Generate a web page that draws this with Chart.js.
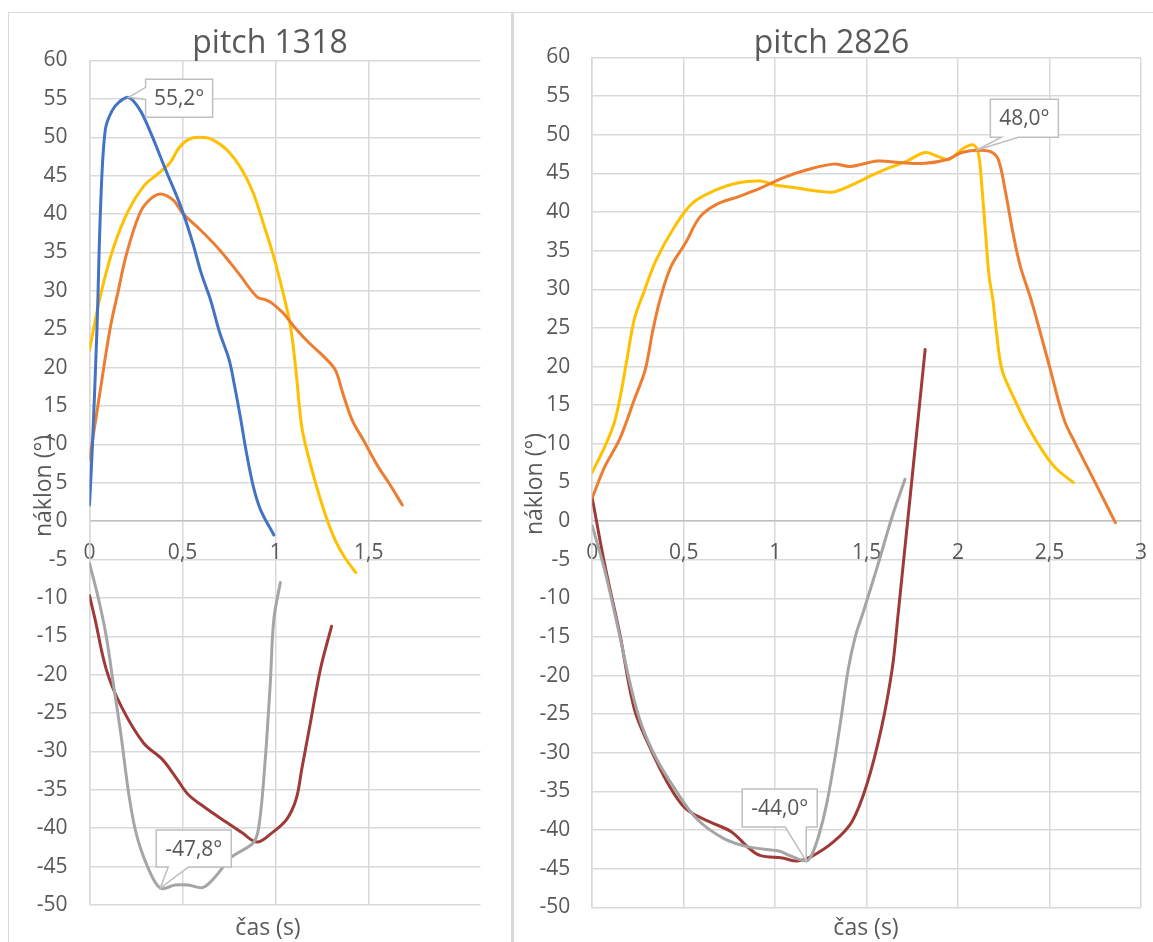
<!DOCTYPE html>
<html><head><meta charset="utf-8">
<script src="https://cdn.jsdelivr.net/npm/chart.js@4.4.1/dist/chart.umd.min.js"></script>
<style>
html,body{margin:0;padding:0;background:#fff;width:1153px;height:942px;overflow:hidden;}
.ln{position:absolute;background:#D9D9D9;}
#wl{position:absolute;left:0;top:0;width:512px;height:942px;}
#wr{position:absolute;left:512px;top:0;width:641px;height:942px;}
</style></head><body>
<div class="ln" style="left:8px;top:12px;width:1145px;height:1px"></div>
<div class="ln" style="left:8px;top:12px;width:1px;height:930px"></div>
<div class="ln" style="left:511px;top:12px;width:3px;height:930px"></div>
<div id="wl"><canvas id="cl" width="512" height="942"></canvas></div>
<div id="wr"><canvas id="cr" width="641" height="942"></canvas></div>
<script>
// ---------- data: pitch 1318 ----------
const titleLeft = "pitch 1318";
const titleRight = "pitch 2826";
const xTitle = "čas (s)";
const yTitle = "náklon (°)";
const yTicks = {min: -50, max: 60, step: 5};

const l1T = [0, 0.016, 0.04, 0.061, 0.085, 0.12, 0.16, 0.21, 0.27, 0.33, 0.41, 0.49, 0.55, 0.6, 0.65, 0.7, 0.75, 0.78, 0.81, 0.84, 0.88, 0.92, 0.99];
const l1V = [2.1, 10, 25, 41.8, 51, 53.4, 54.6, 55.2, 53.6, 50.5, 45.7, 41, 36.6, 32.3, 28.8, 24.5, 21, 17.5, 13.6, 9.3, 4.5, 1.4, -1.8];

const l2T = [0, 0.05, 0.11, 0.15, 0.2, 0.27, 0.32, 0.38, 0.45, 0.5, 0.58, 0.7, 0.8, 0.9, 0.95, 0.98, 1.04, 1.1, 1.18, 1.26, 1.32, 1.36, 1.41, 1.47, 1.55, 1.61, 1.68];
const l2V = [8, 15.8, 25, 29.5, 34.9, 40.1, 41.8, 42.6, 41.8, 40.1, 38.3, 35.3, 32.3, 29.2, 28.8, 28.4, 27.1, 25.3, 23.2, 21.4, 19.7, 16.7, 13.2, 10.6, 7.1, 4.9, 2.1];

const l3T = [0, 0.05, 0.09, 0.13, 0.17, 0.21, 0.25, 0.31, 0.38, 0.46, 0.53, 0.61, 0.68, 0.76, 0.88, 0.91, 0.94, 0.97, 0.99, 1.025];
const l3V = [-5.5, -10.3, -15, -21.5, -28, -35.4, -40.6, -44.9, -47.8, -47.4, -47.4, -47.7, -46.2, -43.8, -41.9, -39.7, -32.3, -21.5, -12.8, -8];

const l4T = [0, 0.06, 0.13, 0.21, 0.29, 0.36, 0.43, 0.48, 0.53, 0.59, 0.66, 0.74, 0.82, 0.88, 0.94, 0.99, 1.04, 1.08, 1.11, 1.14, 1.18, 1.22, 1.27, 1.32, 1.37, 1.43];
const l4V = [22.3, 29.5, 35.7, 40.5, 43.6, 45.1, 46.6, 48.6, 49.7, 50, 49.7, 48.3, 45.7, 42.7, 38.3, 34.4, 29.7, 25.3, 19.3, 12.3, 8, 4.5, 0.6, -2.5, -4.7, -6.7];

const l5T = [0, 0.03, 0.09, 0.17, 0.29, 0.39, 0.47, 0.53, 0.62, 0.74, 0.82, 0.9, 0.98, 1.06, 1.11, 1.14, 1.18, 1.24, 1.3];
const l5V = [-9.7, -12.8, -19.3, -24.1, -28.9, -31, -33.6, -35.6, -37.3, -39.3, -40.6, -41.8, -40.6, -38.8, -36.2, -32.3, -27.1, -19.3, -13.7];

// ---------- data: pitch 2826 ----------
const r2T = [0, 0.07, 0.15, 0.23, 0.29, 0.33, 0.37, 0.43, 0.51, 0.59, 0.68, 0.8, 0.92, 1.04, 1.18, 1.32, 1.41, 1.56, 1.68, 1.82, 1.94, 2.02, 2.1, 2.18, 2.22, 2.26, 2.3, 2.34, 2.4, 2.5, 2.58, 2.64, 2.76, 2.86];
const r2V = [3, 7.1, 10.6, 15.7, 19.6, 24.5, 28.6, 32.9, 36, 39.4, 41, 42, 43.1, 44.4, 45.5, 46.2, 45.9, 46.6, 46.4, 46.3, 46.8, 47.7, 48, 47.8, 46.8, 42.5, 37.3, 33, 28.6, 20, 13.1, 10.1, 4.5, -0.2];

const r3T = [0, 0.07, 0.15, 0.21, 0.27, 0.35, 0.45, 0.57, 0.72, 0.86, 1.02, 1.08, 1.17, 1.2, 1.24, 1.28, 1.32, 1.36, 1.4, 1.44, 1.48, 1.56, 1.64, 1.71];
const r3V = [-0.6, -6.5, -14.8, -21.3, -26.4, -30.7, -34.6, -38.5, -41.1, -42.2, -42.7, -43.3, -44, -43.2, -40.6, -36.8, -31.6, -25.6, -19.1, -14.8, -11.9, -5.8, 0.6, 5.4];

const r4T = [0, 0.07, 0.12, 0.15, 0.19, 0.23, 0.28, 0.35, 0.45, 0.55, 0.68, 0.8, 0.92, 1.0, 1.12, 1.24, 1.32, 1.42, 1.56, 1.72, 1.82, 1.89, 1.95, 2.02, 2.08, 2.11, 2.13, 2.15, 2.17, 2.19, 2.21, 2.24, 2.3, 2.38, 2.47, 2.54, 2.63];
const r4V = [6.3, 9.7, 12.7, 15.7, 20.9, 26.1, 29.5, 33.8, 38.1, 41.2, 42.9, 43.8, 44, 43.5, 43.1, 42.7, 42.6, 43.5, 45.1, 46.6, 47.7, 47.2, 46.8, 48.1, 48.7, 47.7, 43.3, 37.3, 31.6, 28.7, 24.4, 19.6, 16.2, 12.3, 8.8, 6.7, 5];

const r5T = [0, 0.07, 0.15, 0.23, 0.31, 0.41, 0.51, 0.64, 0.76, 0.86, 0.92, 1.04, 1.12, 1.2, 1.32, 1.42, 1.5, 1.58, 1.64, 1.67, 1.82];
const r5V = [3, -5.8, -14.5, -24.3, -29, -33.8, -37.2, -38.9, -40.2, -42.4, -43.3, -43.6, -44, -43.4, -41.5, -38.9, -34.2, -26.9, -19.1, -12.6, 22.2];

const COLORS = {blue: '#4472C4', orange: '#ED7D31', gray: '#A5A5A5', gold: '#FFC000', red: '#9E3A38'};
const FONT = "'Open Sans', 'Noto Sans', sans-serif";
const TXT = '#595959';
const GRID = '#D9D9D9';

function pts(t, v) { return t.map((x, i) => ({x: x, y: v[i]})); }
function fmt(v) { return String(Math.round(v * 10) / 10).replace('.', ','); }
function ds(t, v, color) {
  return {data: pts(t, v), borderColor: color, backgroundColor: color, borderWidth: 3,
    pointRadius: 0, tension: 0.35, fill: false,
    borderCapStyle: 'round', borderJoinStyle: 'round'};
}

function drawCallout(ctx, px, py, c, text) {
  const bx = px + c.dx, by = py + c.dy, bw = c.w, bh = c.h;
  ctx.save();
  ctx.beginPath();
  if (c.side === 'bottom') {
    ctx.moveTo(bx, by); ctx.lineTo(bx + bw, by); ctx.lineTo(bx + bw, by + bh);
    ctx.lineTo(bx + c.b, by + bh); ctx.lineTo(px, py); ctx.lineTo(bx + c.a, by + bh);
    ctx.lineTo(bx, by + bh); ctx.closePath();
  } else {
    ctx.moveTo(bx, by); ctx.lineTo(bx + bw, by); ctx.lineTo(bx + bw, by + bh); ctx.lineTo(bx, by + bh);
    ctx.lineTo(bx, by + c.b); ctx.lineTo(px, py); ctx.lineTo(bx, by + c.a); ctx.closePath();
  }
  ctx.fillStyle = '#fff'; ctx.fill();
  ctx.strokeStyle = '#BFBFBF'; ctx.lineWidth = 1.5; ctx.stroke();
  ctx.fillStyle = TXT; ctx.font = '21px ' + FONT; ctx.textAlign = 'center'; ctx.textBaseline = 'middle';
  ctx.fillText(text, bx + bw / 2, by + bh / 2 + 1);
  ctx.restore();
}

const textPlugin = {
  id: 'texts',
  afterDatasetsDraw(chart) {
    const o = chart.config.options.custom;
    const ctx = chart.ctx;
    const xs = chart.scales.x, ys = chart.scales.y;
    o.callouts.forEach(c => {
      const d = chart.data.datasets[c.ds].data;
      let best = 0;
      d.forEach((p, i) => { if (c.mode === 'max' ? p.y > d[best].y : p.y < d[best].y) best = i; });
      const p = d[best];
      drawCallout(ctx, xs.getPixelForValue(p.x), ys.getPixelForValue(p.y), c, p.y.toFixed(1).replace('.', ',') + '°');
    });
  },
  afterDraw(chart) {
    const o = chart.config.options.custom;
    const ctx = chart.ctx;
    ctx.save();
    ctx.fillStyle = TXT;
    ctx.textAlign = 'center';
    ctx.textBaseline = 'alphabetic';
    ctx.font = '32px ' + FONT;
    ctx.fillText(o.title, o.titleX, o.titleY);
    ctx.font = '23px ' + FONT;
    ctx.fillText(xTitle, o.xtX, o.xtY);
    ctx.translate(o.ytX, o.ytY);
    ctx.rotate(-Math.PI / 2);
    ctx.textBaseline = 'middle';
    ctx.fillText(yTitle, 0, 0);
    ctx.restore();
  }
};

function makeChart(id, datasets, xMax, yW, pad, custom) {
  const tickFont = {family: FONT, size: 21};
  return new Chart(document.getElementById(id), {
    type: 'line',
    data: {datasets: datasets},
    plugins: [textPlugin],
    options: {
      responsive: false, animation: false, devicePixelRatio: 1,
      layout: {padding: pad},
      custom: custom,
      plugins: {legend: {display: false}, tooltip: {enabled: false}, title: {display: false}},
      scales: {
        x: {
          type: 'linear', min: 0, max: xMax, position: {y: 0},
          afterBuildTicks: s => { s.ticks = s.ticks.filter(t => Math.abs(t.value * 2 - Math.round(t.value * 2)) < 1e-6); },
          afterFit: s => { s.paddingLeft = 0; s.paddingRight = 0; },
          ticks: {stepSize: 0.5, autoSkip: false, maxRotation: 0, padding: 19, color: TXT, font: tickFont, callback: v => fmt(v)},
          grid: {color: GRID, lineWidth: 1.5, drawTicks: false},
          border: {display: true, color: '#BFBFBF', width: 1.5}
        },
        y: {
          type: 'linear', min: yTicks.min, max: yTicks.max,
          afterFit: s => { s.width = yW; },
          ticks: {stepSize: yTicks.step, autoSkip: false, padding: 22, color: TXT, font: tickFont, callback: v => fmt(v)},
          grid: {color: GRID, lineWidth: 1.5, drawTicks: false},
          border: {display: true, color: GRID, width: 1.5}
        }
      }
    }
  });
}

makeChart('cl', [
  ds(l1T, l1V, COLORS.blue),
  ds(l2T, l2V, COLORS.orange),
  ds(l3T, l3V, COLORS.gray),
  ds(l4T, l4V, COLORS.gold),
  ds(l5T, l5V, COLORS.red)
], 2.1, 89.5, {left: 0, top: 60.5, right: 31.5, bottom: 37}, {
  title: titleLeft, titleX: 270, titleY: 53,
  xtX: 268, xtY: 935, ytX: 44, ytY: 486,
  callouts: [
    {ds: 0, mode: 'max', dx: 17, dy: -18, w: 67, h: 38, side: 'left', a: 8, b: 20},
    {ds: 2, mode: 'min', dx: -4, dy: -58, w: 75, h: 37, side: 'bottom', a: 12, b: 32}
  ]
});

makeChart('cr', [
  ds(r2T, r2V, COLORS.orange),
  ds(r3T, r3V, COLORS.gray),
  ds(r4T, r4V, COLORS.gold),
  ds(r5T, r5V, COLORS.red)
], 3, 80.2, {left: 0, top: 57.5, right: 12, bottom: 33}, {
  title: titleRight, titleX: 319.5, titleY: 53,
  xtX: 354, xtY: 935, ytX: 23, ytY: 484,
  callouts: [
    {ds: 0, mode: 'max', dx: 14, dy: -51, w: 68, h: 38, side: 'bottom', a: 11, b: 28},
    {ds: 1, mode: 'min', dx: -64, dy: -72, w: 75, h: 38, side: 'bottom', a: 43, b: 64}
  ]
});
</script>
</body></html>
